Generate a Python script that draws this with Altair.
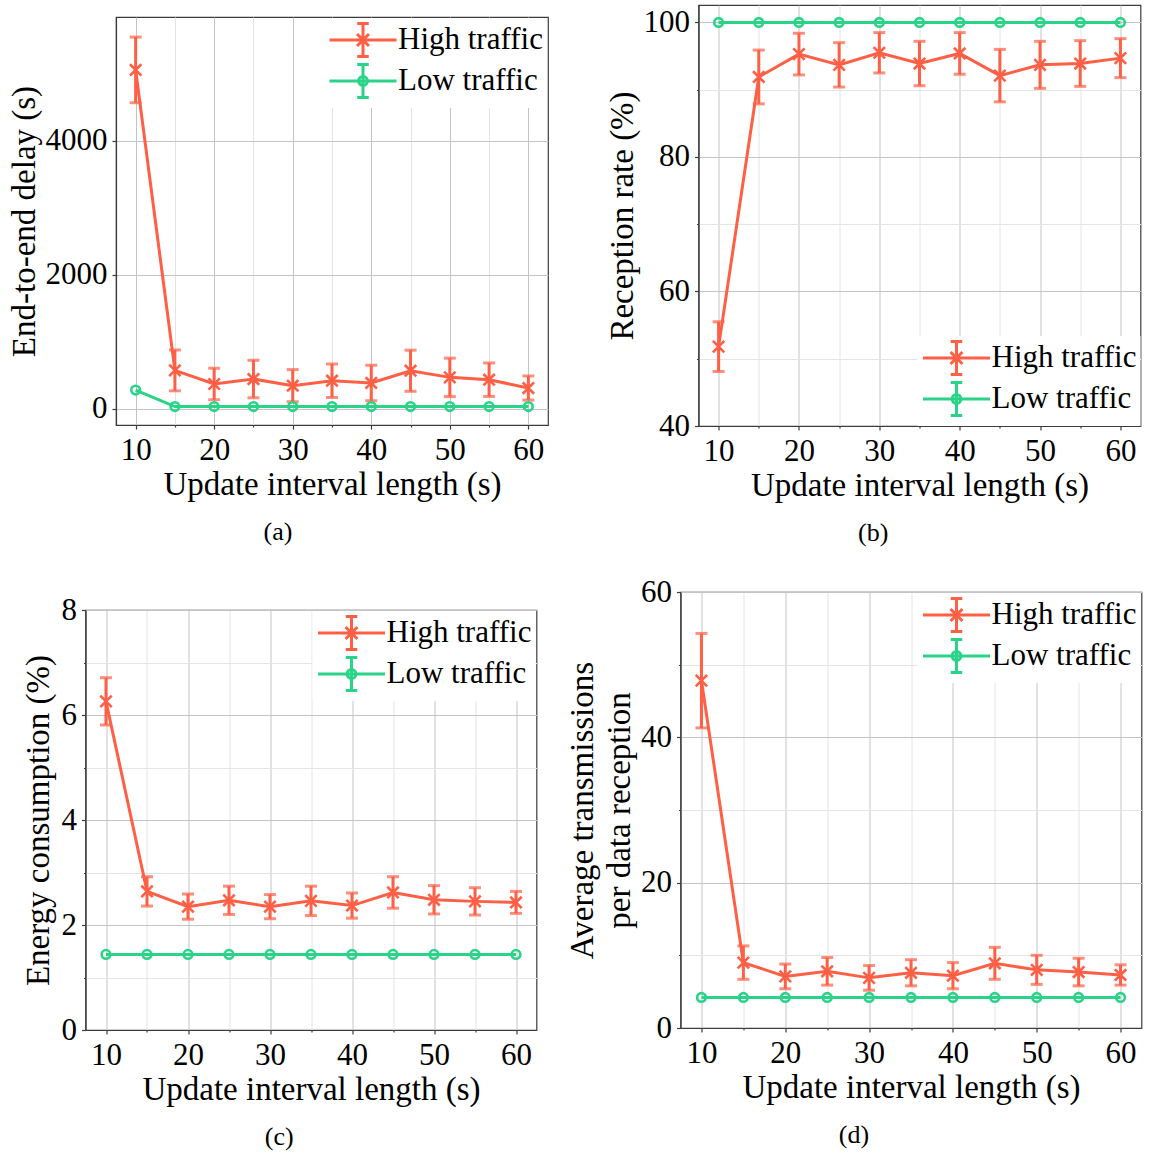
import altair as alt
import pandas as pd

# Update interval lengths (s)
interval = [10, 15, 20, 25, 30, 35, 40, 45, 50, 55, 60]
series_names = ["High traffic", "Low traffic"]
series_colors = ["#ff5f45", "#2ad388"]
HIGH_COLOR, LOW_COLOR = series_colors

# (a) End-to-end delay (s)
delay_high = [5060, 575, 372, 446, 347, 421, 387, 570, 471, 436, 312]
delay_high_err = [490, 305, 235, 280, 240, 250, 265, 307, 287, 250, 180]
delay_low = [282, 35, 35, 35, 35, 35, 35, 35, 35, 35, 35]

# (b) Reception rate (%)
reception_high = [51.8, 91.9, 95.3, 93.7, 95.5, 93.9, 95.4, 92.1, 93.7, 93.9, 94.7]
reception_high_err = [3.7, 4.0, 3.1, 3.3, 3.0, 3.3, 3.1, 3.9, 3.5, 3.4, 2.9]
reception_low = [100, 100, 100, 100, 100, 100, 100, 100, 100, 100, 100]

# (c) Energy consumption (%)
energy_high = [6.26, 2.64, 2.35, 2.47, 2.35, 2.46, 2.37, 2.62, 2.48, 2.45, 2.43]
energy_high_err = [0.45, 0.28, 0.24, 0.27, 0.23, 0.28, 0.24, 0.30, 0.27, 0.26, 0.21]
energy_low = [1.44, 1.44, 1.44, 1.44, 1.44, 1.44, 1.44, 1.44, 1.44, 1.44, 1.44]

# (d) Average transmissions per data reception
tx_high = [47.8, 9.0, 7.1, 7.8, 6.9, 7.6, 7.2, 8.9, 8.0, 7.7, 7.3]
tx_high_err = [6.5, 2.3, 1.7, 1.9, 1.7, 1.8, 1.8, 2.2, 2.0, 1.9, 1.4]
tx_low = [4.2, 4.2, 4.2, 4.2, 4.2, 4.2, 4.2, 4.2, 4.2, 4.2, 4.2]

# Axis tick positions (major + minor)
x_ticks = [10, 15, 20, 25, 30, 35, 40, 45, 50, 55, 60]
delay_ticks = [0, 2000, 4000]
reception_ticks = [40, 50, 60, 70, 80, 90, 100]
energy_ticks = [0, 1, 2, 3, 4, 5, 6, 7, 8]
tx_ticks = [0, 10, 20, 30, 40, 50, 60]

FONT = "Liberation Serif"
MAJOR_GRID = "#c4c4c4"
MINOR_GRID = "#e4e4e4"
FRAME = "#3c3c3c"

# Marker glyphs
X_MARK = "M-1,-1L1,1M-1,1L1,-1"
# Legend glyphs: line + error bar with caps + marker (drawn to the right of the unit box)
LEG_HIGH = ("M-1,0H3.06M1.03,-1V1M0.68,-1H1.38M0.68,1H1.38"
            "M0.67,-0.36L1.39,0.36M0.67,0.36L1.39,-0.36")
LEG_LOW = ("M-1,0H3.06M1.03,-1V1M0.68,-1H1.38M0.68,1H1.38"
           "M1.3,0A0.27,0.27,0,1,1,0.76,0A0.27,0.27,0,1,1,1.3,0")


def build_frame(high, high_err, low):
    rows = []
    for x, m, e in zip(interval, high, high_err):
        rows.append({"x": x, "series": series_names[0], "y": m, "lo": m - e, "hi": m + e})
    for x, m in zip(interval, low):
        rows.append({"x": x, "series": series_names[1], "y": m, "lo": m, "hi": m})
    return pd.DataFrame(rows)


def panel(high, high_err, low, y_domain, y_ticks, y_label_step, y_title,
          legend_orient, legend_offset, width, height, caption, y_title_pad):
    df = build_frame(high, high_err, low)
    base = alt.Chart(df)

    x_axis = alt.Axis(
        values=x_ticks,
        labelExpr="datum.value % 10 === 0 ? datum.label : ''",
        gridColor={"condition": {"test": "datum.value % 10 !== 0", "value": MINOR_GRID},
                   "value": MAJOR_GRID},
        tickSize={"condition": {"test": "datum.value % 10 !== 0", "value": 2},
                  "value": 4},
        title="Update interval length (s)",
    )
    y_axis = alt.Axis(
        values=y_ticks,
        format="d",
        labelExpr=f"datum.value % {y_label_step} === 0 ? datum.label : ''",
        gridColor={"condition": {"test": f"datum.value % {y_label_step} !== 0",
                                 "value": MINOR_GRID},
                   "value": MAJOR_GRID},
        tickSize={"condition": {"test": f"datum.value % {y_label_step} !== 0", "value": 2},
                  "value": 4},
        title=y_title,
        titlePadding=y_title_pad,
    )
    x = alt.X("x:Q", scale=alt.Scale(domain=[7.5, 62.5], nice=False, zero=False), axis=x_axis)
    y_scale = alt.Scale(domain=y_domain, nice=False, zero=False)
    y = alt.Y("y:Q", scale=y_scale, axis=y_axis)
    y_lo = alt.Y("lo:Q", scale=y_scale, axis=y_axis)
    y_hi = alt.Y("hi:Q", scale=y_scale, axis=y_axis)

    high_rows = base.transform_filter(alt.datum.series == series_names[0])
    low_rows = base.transform_filter(alt.datum.series == series_names[1])

    # Legend-only layer: no rows survive the filter, the scales supply the entries
    legend = alt.Legend(
        title=None, orient=legend_orient, offset=legend_offset, padding=4,
        fillColor="white", symbolSize=1089, symbolStrokeWidth=3,
        labelFont=FONT, labelFontSize=31, labelOffset=34, labelLimit=0,
        rowPadding=-22,
    )
    key = base.transform_filter("false").mark_point(filled=False, strokeWidth=3, opacity=1).encode(
        x=x, y=y,
        color=alt.Color("series:N", scale=alt.Scale(domain=series_names, range=series_colors),
                        legend=legend),
        shape=alt.Shape("series:N",
                        scale=alt.Scale(domain=series_names, range=[LEG_HIGH, LEG_LOW]),
                        legend=legend),
    )

    line_hi = high_rows.mark_line(strokeWidth=3, color=HIGH_COLOR).encode(x=x, y=y)
    bars = high_rows.mark_rule(strokeWidth=3, color=HIGH_COLOR).encode(x=x, y=y_lo, y2="hi:Q")
    cap_lo = high_rows.mark_tick(orient="horizontal", size=12, thickness=3,
                                 color=HIGH_COLOR).encode(x=x, y=y_lo)
    cap_hi = high_rows.mark_tick(orient="horizontal", size=12, thickness=3,
                                 color=HIGH_COLOR).encode(x=x, y=y_hi)
    pts_hi = high_rows.mark_point(shape=X_MARK, filled=False, size=130, strokeWidth=2.6,
                                  opacity=1, color=HIGH_COLOR).encode(x=x, y=y)
    line_lo = low_rows.mark_line(strokeWidth=3, color=LOW_COLOR).encode(x=x, y=y)
    pts_lo = low_rows.mark_point(shape="circle", filled=False, size=75, strokeWidth=2.6,
                                 opacity=1, color=LOW_COLOR).encode(x=x, y=y)

    return alt.layer(key, line_hi, bars, cap_lo, cap_hi, pts_hi, line_lo, pts_lo).properties(
        width=width, height=height,
        title=alt.TitleParams(caption, orient="bottom", anchor="middle", frame="bounds",
                              fontSize=26, offset=18),
    )


def gap(w=1, h=1):
    # Empty cell used to offset a panel inside the grid
    return alt.Chart(pd.DataFrame({"v": [0]})).mark_point(size=0, opacity=0).encode(
        x=alt.value(0), y=alt.value(0)
    ).properties(width=w, height=h, view=alt.ViewBackground(strokeOpacity=0))


def grid(*charts, columns, spacing):
    # Every panel keeps its own colour/shape scales and legend
    return alt.concat(*charts, columns=columns, spacing=spacing, align="none").resolve_scale(
        color="independent", shape="independent").resolve_legend(
        color="independent", shape="independent")


pa = panel(delay_high, delay_high_err, delay_low, [-240, 5850], delay_ticks, 2000,
           "End-to-end delay (s)", "top-right", 1, 432, 408, "(a)", 4)
pb = panel(reception_high, reception_high_err, reception_low, [40, 102.6], reception_ticks, 20,
           "Reception rate (%)", "bottom-right", 0, 442, 421, "(b)", 4)
pc = panel(energy_high, energy_high_err, energy_low, [0, 8], energy_ticks, 2,
           "Energy consumption (%)", "top-right", 1, 451, 420, "(c)", 6)
pd_ = panel(tx_high, tx_high_err, tx_low, [0, 60], tx_ticks, 20,
            ["Average transmissions", "per data reception"], "top-right", 1, 461, 436, "(d)", 4)

row1 = grid(
    gap(w=1),
    grid(grid(gap(h=1), pa, columns=1, spacing=10), pb, columns=2, spacing=55.5),
    columns=2, spacing=4,
)
row2 = grid(
    gap(w=1),
    grid(grid(gap(h=1), pc, columns=1, spacing=0), pd_, columns=2, spacing=28),
    columns=2, spacing=17.5,
)

chart = grid(row1, row2, columns=1, spacing=28).properties(
    padding={"left": 2, "top": 4, "right": 0, "bottom": 2},
).configure(
    font=FONT,
).configure_view(
    stroke=FRAME, strokeWidth=1.2,
).configure_axis(
    labelFont=FONT, titleFont=FONT, labelFontSize=31, titleFontSize=33,
    titleFontWeight="normal", labelColor="#000", titleColor="#000",
    domainColor=FRAME, tickColor=FRAME, domainWidth=1.2, tickWidth=1.2,
    gridWidth=1, labelOverlap=False, labelFlush=False, labelPadding=5,
    titleLineHeight=37,
).configure_axisX(
    titlePadding=3, labelPadding=6,
).configure_title(
    font=FONT, fontWeight="normal", color="#000",
)

chart.save("out.html", embed_options={"renderer": "svg", "actions": False})
